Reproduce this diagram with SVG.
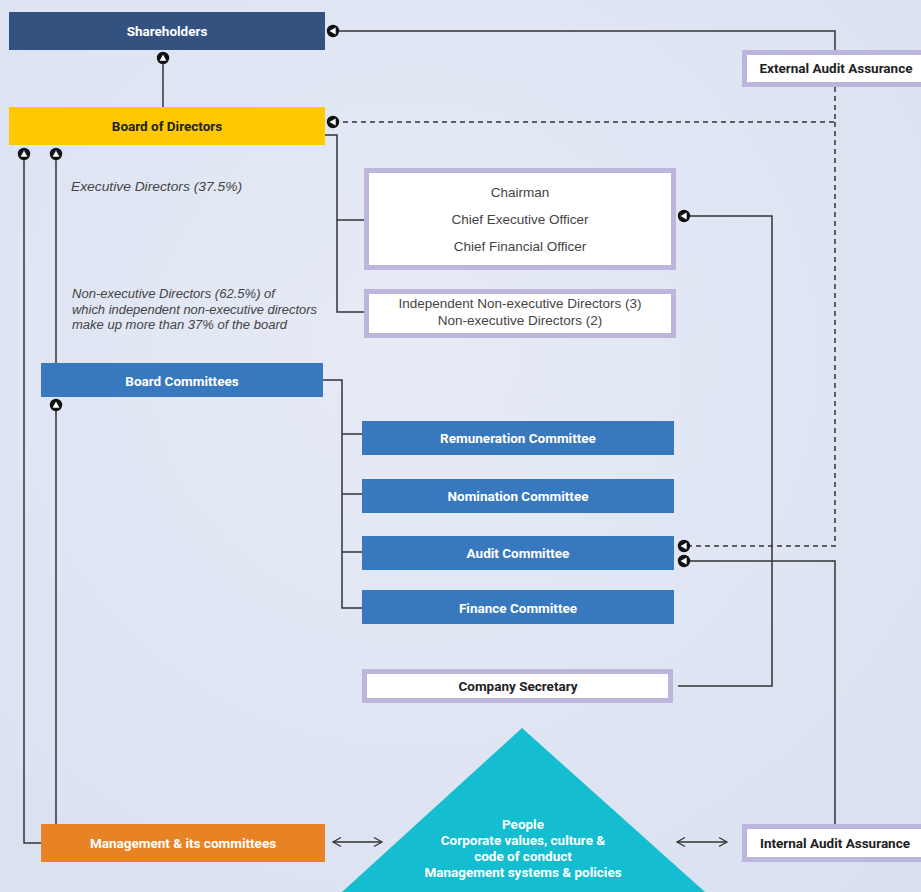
<svg xmlns="http://www.w3.org/2000/svg" width="921" height="892" viewBox="0 0 921 892">
<defs>
<radialGradient id="bg" cx="0.45" cy="0.4" r="0.8">
<stop offset="0" stop-color="#e6ebf6"/>
<stop offset="1" stop-color="#d9e0f0"/>
</radialGradient>
<marker id="dot" markerUnits="userSpaceOnUse" markerWidth="14" markerHeight="14" refX="7" refY="7" orient="auto" viewBox="0 0 14 14">
<circle cx="7" cy="7" r="6.2" fill="#111"/>
<path d="M4.3 3.6 L10.5 7 L4.3 10.4 Z" fill="#fff"/>
</marker>
<marker id="chev" markerUnits="userSpaceOnUse" markerWidth="12" markerHeight="12" refX="10" refY="6" orient="auto-start-reverse" viewBox="0 0 12 12">
<path d="M2 1.5 L10 6 L2 10.5" fill="none" stroke="#333" stroke-width="1.3"/>
</marker>
</defs>
<style>
.ln{fill:none;stroke:#333;stroke-width:1.5}
.dash{fill:none;stroke:#333;stroke-width:1.5;stroke-dasharray:5 4}
.hd{font-family:Roboto,"Liberation Sans",sans-serif;font-weight:bold;font-size:13.5px;text-anchor:middle}
.w{fill:#fff}
.dk{fill:#222}
.lav{fill:#fff;stroke:#bcb6dc;stroke-width:5}
.reg{font-family:"Liberation Sans",Arial,sans-serif;font-size:13.5px;fill:#444;text-anchor:middle}
.it{font-family:"Liberation Sans",Arial,sans-serif;font-style:italic;font-size:12.5px;fill:#444}
</style>
<rect width="921" height="892" fill="url(#bg)"/>

<g id="connectors">
<path class="ln" d="M163 107 V58" marker-end="url(#dot)"/>
<path class="ln" d="M835 50 V31 H333" marker-end="url(#dot)"/>
<path class="dash" d="M835 87 V122 H333" marker-end="url(#dot)"/>
<path class="dash" d="M835 122 V546 H684" marker-end="url(#dot)"/>
<path class="ln" d="M325 135 H337 V312 H366"/>
<path class="ln" d="M337 220 H366"/>
<path class="ln" d="M678 686 H772 V216 H684" marker-end="url(#dot)"/>
<path class="ln" d="M835 825 V561 H684" marker-end="url(#dot)"/>
<path class="ln" d="M41 843 H24 V154" marker-end="url(#dot)"/>
<path class="ln" d="M56 363 V154" marker-end="url(#dot)"/>
<path class="ln" d="M56 824 V405" marker-end="url(#dot)"/>
<path class="ln" d="M323 380 H342 V608 H362"/>
<path class="ln" d="M342 434 H362"/>
<path class="ln" d="M342 494 H362"/>
<path class="ln" d="M342 552 H362"/>
<path class="ln" d="M333 842 H382" marker-start="url(#chev)" marker-end="url(#chev)"/>
<path class="ln" d="M677 842 H727" marker-start="url(#chev)" marker-end="url(#chev)"/>
</g>

<g id="shareholders">
<rect x="9" y="12" width="316" height="38" fill="#33527f"/>
<text class="hd w" x="167" y="36">Shareholders</text>
</g>
<g id="board">
<rect x="9" y="107" width="316" height="38" fill="#ffc800"/>
<text class="hd dk" x="167" y="131">Board of Directors</text>
</g>
<g id="external-audit">
<rect class="lav" x="744.5" y="52.5" width="180" height="32"/>
<text class="hd dk" x="836" y="73">External Audit Assurance</text>
</g>
<g id="executives">
<rect class="lav" x="366.5" y="170.5" width="307" height="97"/>
<text class="reg" x="520" y="197">Chairman</text>
<text class="reg" x="520" y="224">Chief Executive Officer</text>
<text class="reg" x="520" y="251">Chief Financial Officer</text>
</g>
<g id="non-executives">
<rect class="lav" x="366.5" y="291.5" width="307" height="44"/>
<text class="reg" x="520" y="308">Independent Non-executive Directors (3)</text>
<text class="reg" x="520" y="325">Non-executive Directors (2)</text>
</g>
<g id="labels">
<text class="it" x="71" y="191" textLength="171" lengthAdjust="spacingAndGlyphs">Executive Directors (37.5%)</text>
<text class="it" x="72" y="298" textLength="203" lengthAdjust="spacingAndGlyphs">Non-executive Directors (62.5%) of</text>
<text class="it" x="72" y="314" textLength="245" lengthAdjust="spacingAndGlyphs">which independent non-executive directors</text>
<text class="it" x="72" y="329" textLength="215" lengthAdjust="spacingAndGlyphs">make up more than 37% of the board</text>
</g>
<g id="board-committees">
<rect x="41" y="363" width="282" height="34" fill="#3878be"/>
<text class="hd w" x="182" y="386">Board Committees</text>
</g>
<g id="remuneration">
<rect x="362" y="421" width="312" height="34" fill="#3878be"/>
<text class="hd w" x="518" y="443">Remuneration Committee</text>
</g>
<g id="nomination">
<rect x="362" y="479" width="312" height="34" fill="#3878be"/>
<text class="hd w" x="518" y="501">Nomination Committee</text>
</g>
<g id="audit">
<rect x="362" y="536" width="312" height="34" fill="#3878be"/>
<text class="hd w" x="518" y="558">Audit Committee</text>
</g>
<g id="finance">
<rect x="362" y="590" width="312" height="34" fill="#3878be"/>
<text class="hd w" x="518" y="613">Finance Committee</text>
</g>
<g id="secretary">
<rect class="lav" x="364.5" y="671.5" width="306" height="29"/>
<text class="hd dk" x="518" y="691">Company Secretary</text>
</g>
<g id="management">
<rect x="41" y="824" width="284" height="38" fill="#e88325"/>
<text class="hd w" x="183" y="848">Management &amp; its committees</text>
</g>
<g id="pyramid">
<polygon points="522,728 342,892 705,892" fill="#14bed0"/>
<text class="hd w" x="523" y="829">People</text>
<text class="hd w" x="523" y="845">Corporate values, culture &amp;</text>
<text class="hd w" x="523" y="861">code of conduct</text>
<text class="hd w" x="523" y="877">Management systems &amp; policies</text>
</g>
<g id="internal-audit">
<rect class="lav" x="744.5" y="826.5" width="180" height="33"/>
<text class="hd dk" x="835" y="848">Internal Audit Assurance</text>
</g>
</svg>
